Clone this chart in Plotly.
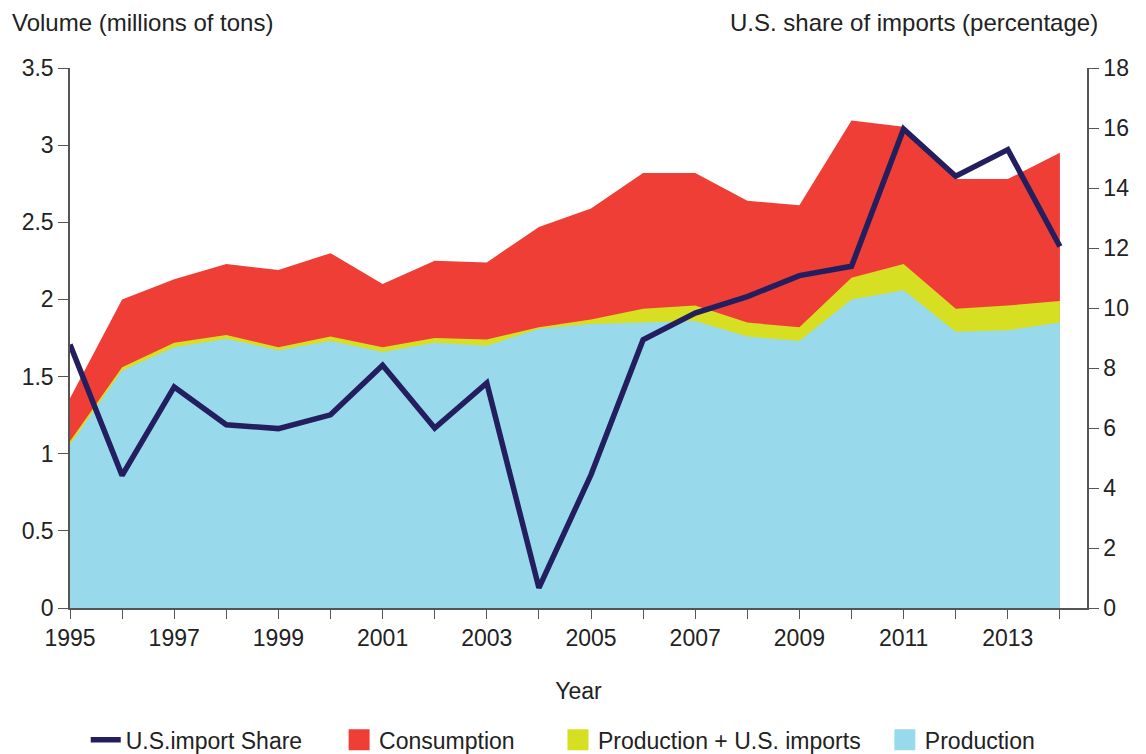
import plotly.graph_objects as go

years = list(range(1995, 2015))

consumption = [1.36, 2.00, 2.13, 2.23, 2.19, 2.30, 2.10, 2.25, 2.24, 2.47,
               2.59, 2.82, 2.82, 2.64, 2.61, 3.16, 3.12, 2.78, 2.78, 2.95]
prod_plus_imports = [1.08, 1.56, 1.72, 1.77, 1.69, 1.76, 1.69, 1.75, 1.74, 1.82,
                     1.87, 1.94, 1.96, 1.85, 1.82, 2.14, 2.23, 1.94, 1.96, 1.99]
production = [1.06, 1.54, 1.69, 1.745, 1.67, 1.73, 1.66, 1.72, 1.70, 1.81,
              1.84, 1.85, 1.86, 1.76, 1.73, 2.00, 2.06, 1.79, 1.80, 1.85]
import_share = [8.78, 4.42, 7.37, 6.11, 5.98, 6.44, 8.09, 6.0, 7.5, 0.67,
                4.44, 8.94, 9.83, 10.38, 11.08, 11.39, 15.97, 14.39, 15.28, 12.05]

font = "Liberation Sans, Arial, sans-serif"
axis_col = "#555555"
nb = "\u00a0"
areas = [
    ("Consumption", consumption, "#ef3e36", 6),
    ("Production + U.S. imports", prod_plus_imports, "#d7df23", 3),
    ("Production", production, "#99d9ec", 0),
]

fig = go.Figure()

fig.add_trace(go.Scatter(
    x=years, y=import_share, mode="lines", name="U.S.import Share" + nb * 5,
    line=dict(color="#231f5f", width=5.5), yaxis="y2",
))

for name, vals, col, pad in areas:
    fig.add_trace(go.Scatter(
        x=years, y=vals, mode="none", fill="tozeroy",
        fillcolor=col, name=name, showlegend=False, legendgroup=name,
    ))
    # legend-only entry with a square swatch
    fig.add_trace(go.Scatter(
        x=[None], y=[None], mode="markers", name=name + nb * pad, legendgroup=name,
        marker=dict(symbol="square", size=16, color=col, line=dict(color=col, width=5)),
    ))

# page body has an 8px margin, so the figure is 8px smaller than the window
fig.update_layout(
    width=1138, height=746,
    margin=dict(l=62, r=59, t=60, b=146),
    paper_bgcolor="white", plot_bgcolor="white",
    font=dict(family=font, size=23, color="#222222"),
    showlegend=True,
    legend=dict(orientation="h", x=0.485, xanchor="center",
                yref="container", y=0.019, yanchor="middle",
                font=dict(size=23), traceorder="normal", itemsizing="trace"),
    xaxis=dict(
        range=[1995, 2014.52], tickvals=years,
        ticktext=[str(y) if (y - 1995) % 2 == 0 else "" for y in years],
        ticks="outside", ticklen=9, tickcolor=axis_col, showgrid=False, zeroline=False,
        showline=True, linecolor=axis_col, linewidth=1.5, automargin=False,
        title=dict(text="Year", standoff=33, font=dict(size=23)),
    ),
    yaxis=dict(
        range=[0, 3.5], tickvals=[0, 0.5, 1, 1.5, 2, 2.5, 3, 3.5],
        ticktext=["0", "0.5", "1", "1.5", "2", "2.5", "3", "3.5"],
        ticks="outside", ticklen=10, tickcolor=axis_col, showgrid=False, zeroline=False,
        showline=True, linecolor=axis_col, linewidth=1.5, automargin=False,
    ),
    yaxis2=dict(
        range=[0, 18], tickvals=list(range(0, 19, 2)), overlaying="y", side="right",
        ticks="outside", ticklen=10, tickcolor=axis_col, showgrid=False, zeroline=False,
        showline=True, linecolor=axis_col, linewidth=1.5, automargin=False,
    ),
    annotations=[
        dict(text="Volume (millions of tons)", xref="paper", yref="paper",
             x=-0.059, y=1.085, xanchor="left", yanchor="middle", showarrow=False,
             font=dict(size=24)),
        dict(text="U.S. share of imports (percentage)", xref="paper", yref="paper",
             x=1.0128, y=1.085, xanchor="right", yanchor="middle", showarrow=False,
             font=dict(size=24)),
    ],
)

fig.write_html("out.html")
